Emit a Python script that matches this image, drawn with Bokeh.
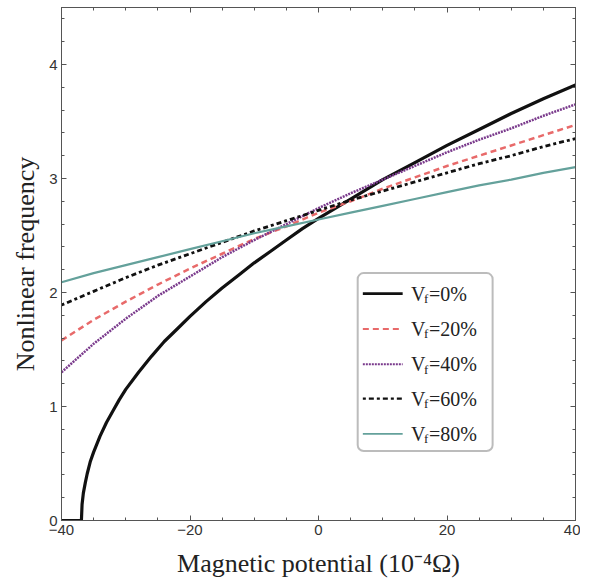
from bokeh.plotting import figure
from bokeh.models import (Range1d, LinearAxis, SingleIntervalTicker, BoxAnnotation)
from bokeh.core.properties import value
from bokeh.embed import file_html
from bokeh.resources import INLINE

# ---- data ----
x_vf0 = [-40, -36.9, -36.8, -36.6, -36.3, -36, -35.5, -35, -34.5, -34, -33, -32, -31, -30, -28, -26, -24, -22, -20,
         -17.5, -15, -12.5, -10, -7.5, -5, -2.5, 0, 5, 10, 15, 20, 25, 30, 35, 40]
y_vf0 = [0, 0, 0.14, 0.24, 0.33, 0.41, 0.52, 0.60, 0.67, 0.74, 0.86, 0.96, 1.06, 1.15, 1.30, 1.44, 1.57, 1.68, 1.79,
         1.92, 2.04, 2.15, 2.26, 2.36, 2.46, 2.56, 2.65, 2.82, 2.99, 3.14, 3.29, 3.43, 3.57, 3.70, 3.82]

x_common = [-40, -35, -30, -25, -20, -15, -10, -5, 0, 5, 10, 15, 20, 25, 30, 35, 40]
y_vf20 = [1.58, 1.76, 1.92, 2.07, 2.21, 2.34, 2.47, 2.58, 2.70, 2.80, 2.91, 3.01, 3.11, 3.20, 3.29, 3.38, 3.47]
y_vf40 = [1.30, 1.55, 1.77, 1.97, 2.14, 2.31, 2.46, 2.60, 2.74, 2.87, 2.99, 3.11, 3.23, 3.34, 3.44, 3.55, 3.65]
y_vf60 = [1.89, 2.01, 2.13, 2.24, 2.34, 2.44, 2.54, 2.63, 2.72, 2.81, 2.89, 2.97, 3.05, 3.13, 3.20, 3.28, 3.35]
y_vf80 = [2.09, 2.17, 2.24, 2.31, 2.38, 2.45, 2.52, 2.58, 2.64, 2.70, 2.76, 2.82, 2.88, 2.94, 2.99, 3.05, 3.10]

legend_values = ["=0%", "=20%", "=40%", "=60%", "=80%"]
x_ticks_labels = {-40: "\u221240", -20: "\u221220", 0: "0", 20: "20", 40: "40"}

SERIF = "Liberation Serif"
SANS = "Liberation Sans"
AXIS_COLOR = "#555555"

p = figure(frame_width=514, frame_height=513,
           min_border_left=61, min_border_right=5, min_border_top=7, min_border_bottom=60,
           x_range=Range1d(-40, 40), y_range=Range1d(0, 4.5),
           output_backend="svg", toolbar_location=None)
p.outline_line_color = AXIS_COLOR
p.xgrid.visible = False
p.ygrid.visible = False
p.background_fill_color = "white"
p.border_fill_color = "white"

styles = [
    dict(color="#111111", width=3.2, dash="solid"),
    dict(color="#e86a6a", width=2.5, dash="6 4"),
    dict(color="#7a3a8c", width=2.5, dash="2 1"),
    dict(color="#111111", width=2.8, dash="3 3 5 3"),
    dict(color="#64a19b", width=2.2, dash="solid"),
]
series = [(x_vf0, y_vf0), (x_common, y_vf20), (x_common, y_vf40), (x_common, y_vf60), (x_common, y_vf80)]
for (xs, ys), st in zip(series, styles):
    p.line(xs, ys, line_color=st["color"], line_width=st["width"], line_dash=st["dash"],
           line_join="round")

# axes
def style_axis(ax, labels=True):
    ax.axis_line_color = AXIS_COLOR
    ax.major_tick_line_color = AXIS_COLOR
    ax.minor_tick_line_color = AXIS_COLOR
    ax.major_tick_in = 5
    ax.major_tick_out = 0
    ax.minor_tick_in = 3
    ax.minor_tick_out = 0
    if labels:
        ax.major_label_text_font = SANS
        ax.major_label_text_font_size = "15px"
        ax.major_label_text_color = "#333333"
        ax.axis_label_text_font = SERIF
        ax.axis_label_text_font_style = "normal"
        ax.axis_label_text_font_size = "26px"
        ax.axis_label_text_color = "#222222"
    else:
        ax.major_label_standoff = 0

xt = SingleIntervalTicker(interval=20, num_minor_ticks=4)
yt = SingleIntervalTicker(interval=1, num_minor_ticks=5)
p.xaxis.ticker = xt
p.yaxis.ticker = yt
p.xaxis.major_label_overrides = x_ticks_labels
p.xaxis.axis_label = "Magnetic potential (10\u207b\u2074\u03a9)"
p.yaxis.axis_label = "Nonlinear frequency"
style_axis(p.xaxis[0])
style_axis(p.yaxis[0])
p.xaxis.major_label_standoff = 4
p.yaxis.major_label_standoff = 4
p.xaxis.axis_label_standoff = 11
p.yaxis.axis_label_standoff = 6

top_ax = LinearAxis(ticker=SingleIntervalTicker(interval=20, num_minor_ticks=4))
right_ax = LinearAxis(ticker=SingleIntervalTicker(interval=1, num_minor_ticks=5))
style_axis(top_ax, labels=False)
style_axis(right_ax, labels=False)
top_ax.major_label_overrides = {v: "" for v in [-40, -20, 0, 20, 40]}
right_ax.major_label_overrides = {v: "" for v in [0, 1, 2, 3, 4]}
p.add_layout(top_ax, "above")
p.add_layout(right_ax, "right")

# legend (hand-built so that the subscript f can be shown)
box = BoxAnnotation(left=6.1, right=27.1, bottom=0.61, top=2.17,
                    fill_color="white", fill_alpha=1.0,
                    line_color="#222222", line_width=2, border_radius=6, level="underlay")
p.add_layout(box)
leg_y = [1.99, 1.68, 1.37, 1.07, 0.76]
for ly, st, lab in zip(leg_y, styles, legend_values):
    p.line([6.9, 13.1], [ly, ly], line_color=st["color"], line_width=st["width"] * 0.8,
           line_dash=st["dash"])
    p.text([14.4], [ly], text=["V"], text_font=value(SERIF), text_font_size="20px",
           text_baseline="middle", text_align="left", text_color="#222222")
    p.text([14.4], [ly], text=["f"], text_font=value(SERIF), text_font_size="13px",
           text_baseline="middle", text_align="left", text_color="#222222",
           x_offset=13, y_offset=5)
    p.text([14.4], [ly], text=[lab], text_font=value(SERIF), text_font_size="20px",
           text_baseline="middle", text_align="left", text_color="#222222",
           x_offset=18)

open("out.html", "w").write(file_html(p, INLINE))
